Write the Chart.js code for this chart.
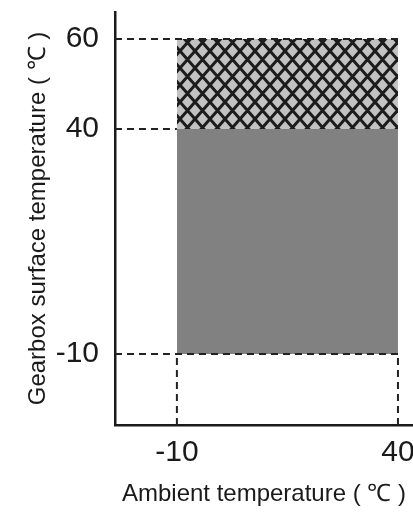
<!DOCTYPE html>
<html>
<head>
<meta charset="utf-8">
<script src="https://cdn.jsdelivr.net/npm/chart.js@4"></script>
<style>
html,body{margin:0;padding:0;background:#fff;}
#wrap{width:413px;height:515px;}
</style>
</head>
<body>
<div id="wrap"><canvas id="c" width="413" height="515"></canvas></div>
<script>
// Data
const ambientRange = [-10, 40];          // x extent of operating zone (°C)
const surfaceLevels = [-10, 40, 60];     // y levels (°C): bottom, continuous limit, peak limit
const xTickValues = [-10, 40];
const yTickValues = [-10, 40, 60];
const xAxisRange = [-24, 43.4];
const yAxisRange = [-25.8, 66];

const xTitle = 'Ambient temperature ( ℃ )';
const yTitle = 'Gearbox surface temperature ( ℃ )';

// crosshatch pattern
function makeHatch(){
  const w = 15, h = 17;
  const c = document.createElement('canvas');
  c.width = w; c.height = h;
  const g = c.getContext('2d');
  g.fillStyle = '#c2c2c2';
  g.fillRect(0,0,w,h);
  g.strokeStyle = '#1c1c1c';
  g.lineWidth = 3;
  g.beginPath();
  g.moveTo(-w*0.2,-h*0.2); g.lineTo(w*1.2,h*1.2);
  g.moveTo(w*1.2,-h*0.2); g.lineTo(-w*0.2,h*1.2);
  g.stroke();
  return document.getElementById('c').getContext('2d').createPattern(c,'repeat');
}
const hatch = makeHatch();

const dashStyle = {borderColor:'#222', borderWidth:2, borderDash:[7,5], pointRadius:0, fill:false, order:0, tension:0};

const datasets = [
  // hatched zone (peak) between levels 1 and 2
  {data:[{x:ambientRange[0],y:surfaceLevels[2]},{x:ambientRange[1],y:surfaceLevels[2]}],
   borderWidth:0, pointRadius:0, backgroundColor:hatch, fill:{value:surfaceLevels[1]}, order:2},
  // gray zone (continuous) between levels 0 and 1
  {data:[{x:ambientRange[0],y:surfaceLevels[1]},{x:ambientRange[1],y:surfaceLevels[1]}],
   borderWidth:0, pointRadius:0, backgroundColor:'#818181', fill:{value:surfaceLevels[0]}, order:2},
  // dashed guides
  Object.assign({data:[{x:xAxisRange[0],y:surfaceLevels[2]},{x:ambientRange[1],y:surfaceLevels[2]}]}, dashStyle),
  Object.assign({data:[{x:xAxisRange[0],y:surfaceLevels[1]},{x:ambientRange[0],y:surfaceLevels[1]}]}, dashStyle),
  Object.assign({data:[{x:xAxisRange[0],y:surfaceLevels[0]},{x:ambientRange[1],y:surfaceLevels[0]}]}, dashStyle),
  Object.assign({data:[{x:ambientRange[0],y:yAxisRange[0]},{x:ambientRange[0],y:surfaceLevels[0]}]}, dashStyle),
  Object.assign({data:[{x:ambientRange[1],y:yAxisRange[0]},{x:ambientRange[1],y:surfaceLevels[0]}]}, dashStyle)
];

const tickFont = {family:'"Liberation Sans", Arial, sans-serif', size:30};
const titleFont = {family:'"Liberation Sans", Arial, sans-serif', size:24};

new Chart(document.getElementById('c'), {
  type:'line',
  data:{datasets},
  options:{
    responsive:false,
    animation:false,
    layout:{padding:{top:12,right:0,left:0,bottom:0}},
    plugins:{legend:{display:false}, tooltip:{enabled:false}},
    scales:{
      x:{
        type:'linear', min:xAxisRange[0], max:xAxisRange[1],
        afterBuildTicks:(s)=>{s.ticks = xTickValues.map(v=>({value:v}));},
        afterFit:(s)=>{s.height = 90; s.paddingLeft = 0; s.paddingRight = 0;},
        grid:{display:false, drawTicks:false},
        border:{display:true, color:'#1a1a1a', width:2.5},
        ticks:{color:'#1a1a1a', font:tickFont, padding:10, maxRotation:0, autoSkip:false},
        title:{display:true, text:xTitle, color:'#1a1a1a', font:titleFont, padding:{top:0,bottom:6}}
      },
      y:{
        type:'linear', min:yAxisRange[0], max:yAxisRange[1],
        afterBuildTicks:(s)=>{s.ticks = yTickValues.map(v=>({value:v}));},
        afterFit:(s)=>{s.width = 115; s.paddingTop = 0; s.paddingBottom = 0;},
        grid:{display:false, drawTicks:false},
        border:{display:true, color:'#1a1a1a', width:2.5},
        ticks:{color:'#1a1a1a', font:tickFont, padding:16, autoSkip:false},
        title:{display:true, text:yTitle, color:'#1a1a1a', font:titleFont, padding:{top:24,bottom:0}}
      }
    }
  }
});
</script>
</body>
</html>
